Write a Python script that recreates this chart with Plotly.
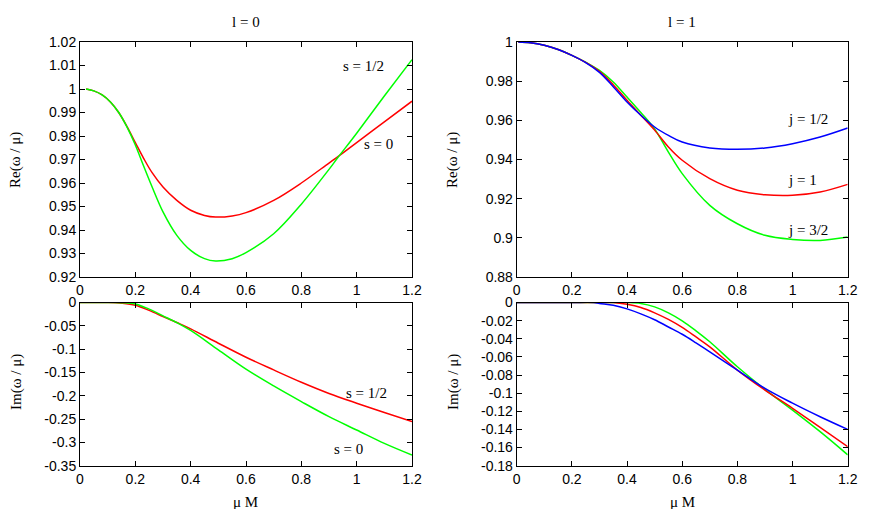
import plotly.graph_objects as go

# ---- data ----
x_re0 = [0.022, 0.05, 0.08, 0.11, 0.14, 0.17, 0.2, 0.23, 0.26, 0.3, 0.35, 0.4, 0.45, 0.49, 0.55, 0.6, 0.7, 0.8, 0.9, 0.93, 1.0, 1.1, 1.2]
re0_s0 = [1.0, 0.9992, 0.9975, 0.9945, 0.9900, 0.9840, 0.9772, 0.9705, 0.9645, 0.9583, 0.9526, 0.9484, 0.9462, 0.9455, 0.9460, 0.9474, 0.9526, 0.9600, 0.9685, 0.9710, 0.9772, 0.9860, 0.9948]
re0_s12 = [1.0, 0.9992, 0.9975, 0.9945, 0.9900, 0.9838, 0.9762, 0.9672, 0.9585, 0.9477, 0.9377, 0.9313, 0.9278, 0.9268, 0.9278, 0.9304, 0.9384, 0.9510, 0.9658, 0.9705, 0.9812, 0.9970, 1.0125]

x_im0 = [0, 0.05, 0.1, 0.15, 0.2, 0.25, 0.3, 0.35, 0.4, 0.5, 0.6, 0.7, 0.8, 0.9, 1.0, 1.1, 1.2]
im0_s12 = [0, 0, 0, -0.0014, -0.0057, -0.017, -0.030, -0.043, -0.0565, -0.0873, -0.1174, -0.1446, -0.171, -0.195, -0.216, -0.236, -0.2555]
im0_s0 = [0, 0, 0, -0.0003, -0.003, -0.0143, -0.0286, -0.043, -0.060, -0.1016, -0.143, -0.179, -0.2126, -0.2448, -0.2734, -0.302, -0.327]

x_re1 = [0.006, 0.05, 0.1, 0.15, 0.2, 0.25, 0.3, 0.35, 0.4, 0.45, 0.5, 0.55, 0.6, 0.7, 0.8, 0.9, 1.0, 1.1, 1.2]
re1_j12 = [1.0, 0.9996, 0.9983, 0.9962, 0.9932, 0.9895, 0.9845, 0.9772, 0.9694, 0.9626, 0.9566, 0.9523, 0.9489, 0.9459, 0.9452, 0.9459, 0.9481, 0.9515, 0.9561]
re1_j1 = [1.0, 0.9996, 0.9983, 0.9962, 0.9932, 0.9896, 0.9850, 0.9782, 0.9702, 0.9626, 0.9550, 0.9464, 0.9396, 0.9302, 0.9243, 0.9220, 0.9217, 0.9234, 0.9273]
re1_j32 = [1.0, 0.9996, 0.9983, 0.9962, 0.9932, 0.9897, 0.9855, 0.9796, 0.9719, 0.9640, 0.9556, 0.9438, 0.9328, 0.9166, 0.9072, 0.9013, 0.8992, 0.8987, 0.9004]

x_im1 = [0, 0.1, 0.2, 0.28, 0.3, 0.35, 0.4, 0.45, 0.5, 0.55, 0.6, 0.65, 0.7, 0.8, 0.9, 1.0, 1.1, 1.2]
im1_j12 = [0, 0, 0, 0, -0.001, -0.003, -0.007, -0.0125, -0.019, -0.027, -0.035, -0.0445, -0.0545, -0.0745, -0.0947, -0.111, -0.126, -0.140]
im1_j1 = [0, 0, 0, 0, 0, 0, -0.002, -0.0055, -0.0114, -0.0187, -0.0275, -0.0380, -0.0489, -0.0745, -0.0966, -0.1167, -0.1378, -0.159]
im1_j32 = [0, 0, 0, 0, 0, 0, 0, -0.001, -0.0048, -0.0114, -0.0202, -0.0312, -0.0433, -0.0709, -0.0958, -0.1187, -0.1425, -0.168]

RED, GREEN, BLUE = "#ff0000", "#00ff00", "#0000ff"
W, H = 872, 509

fig = go.Figure()

def line(x, y, color, xa, ya):
    fig.add_trace(go.Scatter(x=x, y=y, mode="lines",
                             line=dict(color=color, width=1.5, shape="spline", smoothing=1.0),
                             xaxis=xa, yaxis=ya, showlegend=False, hoverinfo="skip"))

line(x_re0, re0_s0, RED, "x", "y")
line(x_re0, re0_s12, GREEN, "x", "y")
line(x_im0, im0_s12, RED, "x3", "y3")
line(x_im0, im0_s0, GREEN, "x3", "y3")
line(x_re1, re1_j32, GREEN, "x2", "y2")
line(x_re1, re1_j1, RED, "x2", "y2")
line(x_re1, re1_j12, BLUE, "x2", "y2")
line(x_im1, im1_j32, GREEN, "x4", "y4")
line(x_im1, im1_j1, RED, "x4", "y4")
line(x_im1, im1_j12, BLUE, "x4", "y4")

def px(v): return v / W
def py(v): return 1 - v / H

xl = [px(80), px(412)]
xr = [px(516.7), px(847.7)]
yt = [py(277), py(42)]
yb = [py(465.7), py(302.5)]

tickfont = dict(family="Liberation Sans, Arial, sans-serif", size=14, color="black")
common = dict(showline=True, linecolor="black", linewidth=1, mirror="ticks", ticks="inside",
              ticklen=5, tickcolor="black", tickwidth=1, showgrid=False, zeroline=False,
              tickfont=tickfont, automargin=False)

def fmt(v):
    s = ("%.3f" % v).rstrip("0").rstrip(".")
    return "0" if s in ("-0", "") else s

def yticks(lo, hi, step):
    n = int(round((hi - lo) / step))
    vals = [round(lo + i * step, 4) for i in range(n + 1)]
    return dict(tickvals=vals, ticktext=[fmt(v) for v in vals], range=[lo, hi])

xt = [0, 0.2, 0.4, 0.6, 0.8, 1.0, 1.2]
xcommon = dict(range=[0, 1.2], tickvals=xt, ticktext=[fmt(v) for v in xt], **common)

fig.update_layout(
    width=W, height=H, margin=dict(l=0, r=0, t=0, b=0, autoexpand=False),
    plot_bgcolor="white", paper_bgcolor="white",
    xaxis=dict(domain=xl, anchor="y", **xcommon),
    yaxis=dict(domain=yt, anchor="x", **yticks(0.92, 1.02, 0.01), **common),
    xaxis2=dict(domain=xr, anchor="y2", **xcommon),
    yaxis2=dict(domain=yt, anchor="x2", **yticks(0.88, 1.0, 0.02), **common),
    xaxis3=dict(domain=xl, anchor="y3", **xcommon),
    yaxis3=dict(domain=yb, anchor="x3", **yticks(-0.35, 0, 0.05), **common),
    xaxis4=dict(domain=xr, anchor="y4", **xcommon),
    yaxis4=dict(domain=yb, anchor="x4", **yticks(-0.18, 0, 0.02), **common),
)

serif = dict(family="Liberation Serif, Times New Roman, serif", size=15, color="black")

def ann_paper(text, x, y, angle=0):
    fig.add_annotation(text=text, x=px(x), y=py(y), xref="paper", yref="paper", showarrow=False,
                       font=serif, textangle=angle, xanchor="center", yanchor="middle")

ann_paper("l = 0", 246, 22)
ann_paper("l = 1", 682, 22)
ann_paper("Re(ω / μ)", 16, 160, -90)
ann_paper("Im(ω / μ)", 16, 382, -90)
ann_paper("Re(ω / μ)", 453, 160, -90)
ann_paper("Im(ω / μ)", 453, 382, -90)
ann_paper("μ M", 246, 502)
ann_paper("μ M", 682, 502)

def ann_data(text, x, y, xa, ya):
    fig.add_annotation(text=text, x=x, y=y, xref=xa, yref=ya, showarrow=False, font=serif,
                       xanchor="center", yanchor="middle")

ann_data("s = 1/2", 1.023, 1.0099, "x", "y")
ann_data("s = 0", 1.078, 0.9767, "x", "y")
ann_data("s = 1/2", 1.036, -0.1946, "x3", "y3")
ann_data("s = 0", 0.97, -0.3145, "x3", "y3")
ann_data("j = 1/2", 1.057, 0.9605, "x2", "y2")
ann_data("j = 1", 1.037, 0.9295, "x2", "y2")
ann_data("j = 3/2", 1.057, 0.904, "x2", "y2")

# remove the default page margin so the figure sits at the window's top-left corner
fig.write_html("out.html", config={"displayModeBar": False, "staticPlot": True},
               post_script="document.body.style.margin='0';document.body.style.overflow='hidden';")
